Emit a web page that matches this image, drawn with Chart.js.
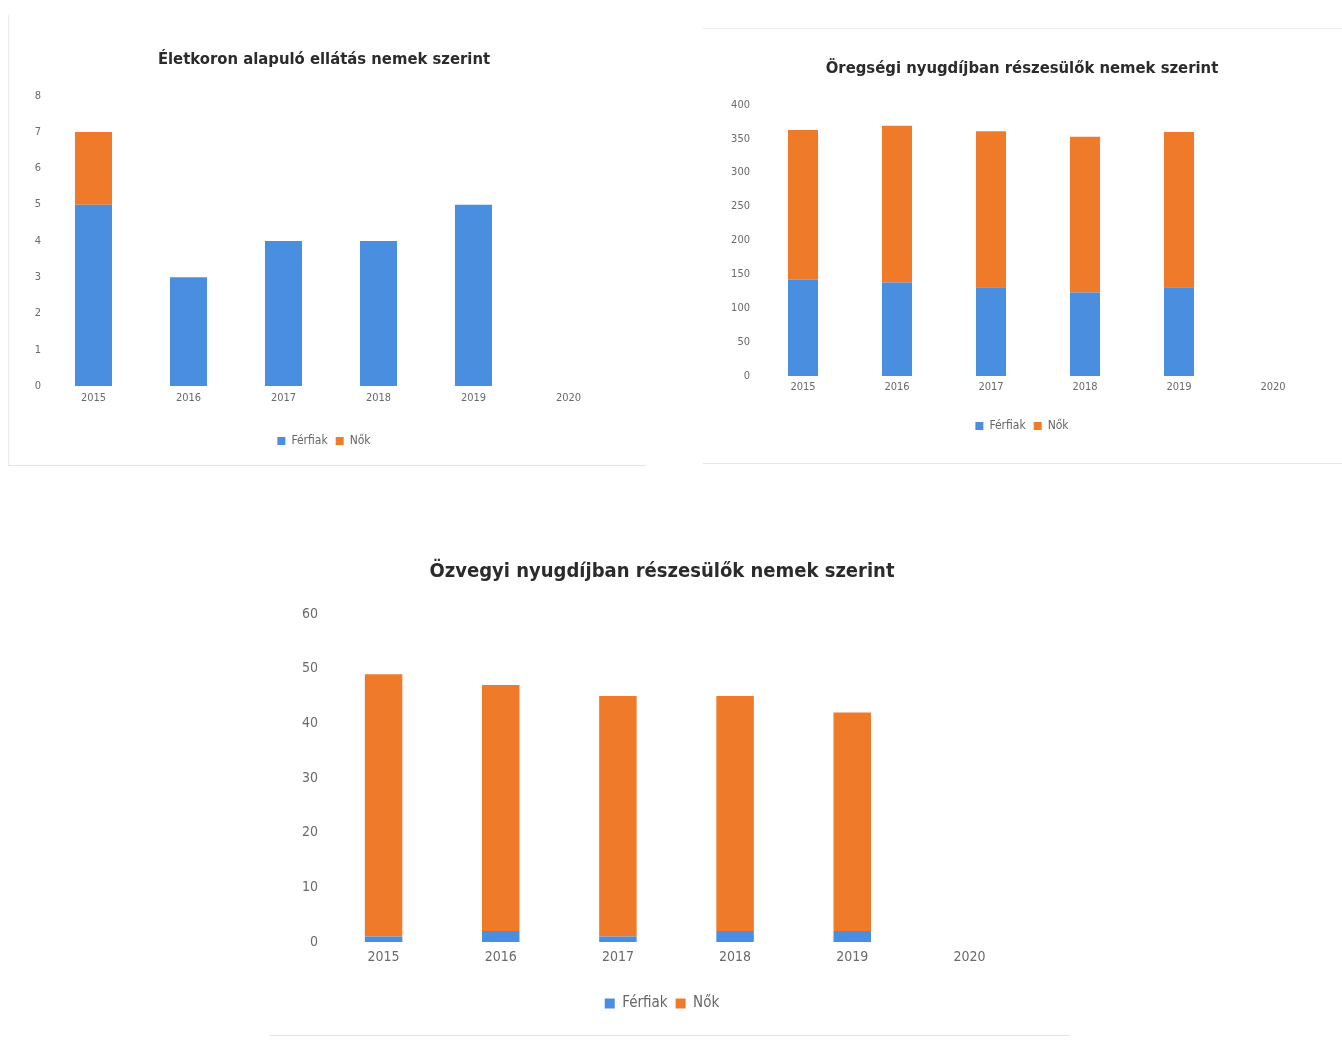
<!DOCTYPE html>
<html>
<head>
<meta charset="utf-8">
<script src="https://cdn.jsdelivr.net/npm/chart.js@4"></script>
<style>
  body { margin: 0; background: #fff; width: 1342px; height: 1052px; position: relative; overflow: hidden; }
  .box { position: absolute; }
  #box1 { left: 8px; top: 15px; width: 637px; height: 450px; border-left: 1px solid #ececec; border-bottom: 1px solid #e4e4e4; }
  #box2 { left: 703px; top: 28px; width: 639px; height: 434px; border-top: 1px solid #ececec; border-bottom: 1px solid #e4e4e4; }
  #box3 { left: 270px; top: 530px; width: 800px; height: 505px; border-bottom: 1px solid #e4e4e4; }
</style>
</head>
<body>
<div class="box" id="box1"><canvas id="ageChart"></canvas></div>
<div class="box" id="box2"><canvas id="oldAgeChart"></canvas></div>
<div class="box" id="box3"><canvas id="widowChart"></canvas></div>
<script>
const years = ['2015', '2016', '2017', '2018', '2019', '2020'];
const seriesNames = ['Férfiak', 'Nők'];

// Életkoron alapuló ellátás
const ageMen = [5, 3, 4, 4, 5, null];
const ageWomen = [2, 0, 0, 0, 0, null];

// Öregségi nyugdíj
const oldAgeMen = [142, 138, 131, 123, 131, null];
const oldAgeWomen = [221, 231, 230, 230, 229, null];

// Özvegyi nyugdíj
const widowMen = [1, 2, 1, 2, 2, null];
const widowWomen = [48, 45, 44, 43, 40, null];

const BLUE = '#4a8ee0';
const ORANGE = '#ef7b2a';
const FONT = "'Liberation Sans Narrow', 'DejaVu Sans Condensed', sans-serif";
const TICK_COLOR = '#6a6a6a';

Chart.defaults.font.family = FONT;
Chart.defaults.animation = false;

function buildChart(id, cfg) {
    const ctx = document.getElementById(id);
    return new Chart(ctx, {
        type: 'bar',
        data: {
            labels: years,
            datasets: [
                { label: seriesNames[0], data: cfg.men, backgroundColor: BLUE, categoryPercentage: cfg.barPct, barPercentage: 1 },
                { label: seriesNames[1], data: cfg.women, backgroundColor: ORANGE, categoryPercentage: cfg.barPct, barPercentage: 1 }
            ]
        },
        options: {
            responsive: true,
            maintainAspectRatio: false,
            layout: { padding: cfg.padding },
            plugins: {
                title: {
                    display: true,
                    text: cfg.title,
                    color: '#2b2b2b',
                    font: { size: cfg.titleSize, weight: 'bold', family: FONT },
                    padding: { top: 0, bottom: cfg.titleGap }
                },
                legend: {
                    position: 'bottom',
                    labels: {
                        boxWidth: cfg.legendBox,
                        boxHeight: cfg.legendBox,
                        color: '#666',
                        font: { size: cfg.legendSize },
                        padding: 8
                    }
                },
                tooltip: { enabled: false }
            },
            scales: {
                x: {
                    stacked: true,
                    grid: { display: false, drawTicks: false },
                    border: { display: false },
                    ticks: { color: TICK_COLOR, font: { size: cfg.tickSize }, padding: cfg.xPad, maxRotation: 0 },
                    afterFit: s => { s.height = cfg.xHeight; }
                },
                y: {
                    stacked: true,
                    min: 0,
                    max: cfg.max,
                    grid: { display: false, drawTicks: false },
                    border: { display: false },
                    ticks: { stepSize: cfg.step, color: TICK_COLOR, font: { size: cfg.tickSize }, padding: cfg.yPad },
                    afterFit: s => { s.width = cfg.yWidth; }
                }
            }
        }
    });
}

buildChart('ageChart', {
    title: 'Életkoron alapuló ellátás nemek szerint',
    men: ageMen, women: ageWomen, max: 8, step: 1,
    barPct: 0.39, titleSize: 16.5, titleGap: 26, tickSize: 11, xPad: 6, yPad: 5,
    legendBox: 8, legendSize: 12, xHeight: 41, yWidth: 14,
    padding: { top: 35, bottom: 8, left: 23, right: 30 }
});

buildChart('oldAgeChart', {
    title: 'Öregségi nyugdíjban részesülők nemek szerint',
    men: oldAgeMen, women: oldAgeWomen, max: 400, step: 50,
    barPct: 0.32, titleSize: 16.5, titleGap: 26, tickSize: 11, xPad: 5, yPad: 6,
    legendBox: 8, legendSize: 12, xHeight: 36, yWidth: 32,
    padding: { top: 30, bottom: 21, left: 21, right: 22 }
});

buildChart('widowChart', {
    title: 'Özvegyi nyugdíjban részesülők nemek szerint',
    men: widowMen, women: widowWomen, max: 60, step: 10,
    barPct: 0.32, titleSize: 20, titleGap: 30, tickSize: 14, xPad: 7, yPad: 7,
    legendBox: 10, legendSize: 15, xHeight: 46, yWidth: 29,
    padding: { top: 30, bottom: 14, left: 26, right: 42 }
});
</script>
</body>
</html>
